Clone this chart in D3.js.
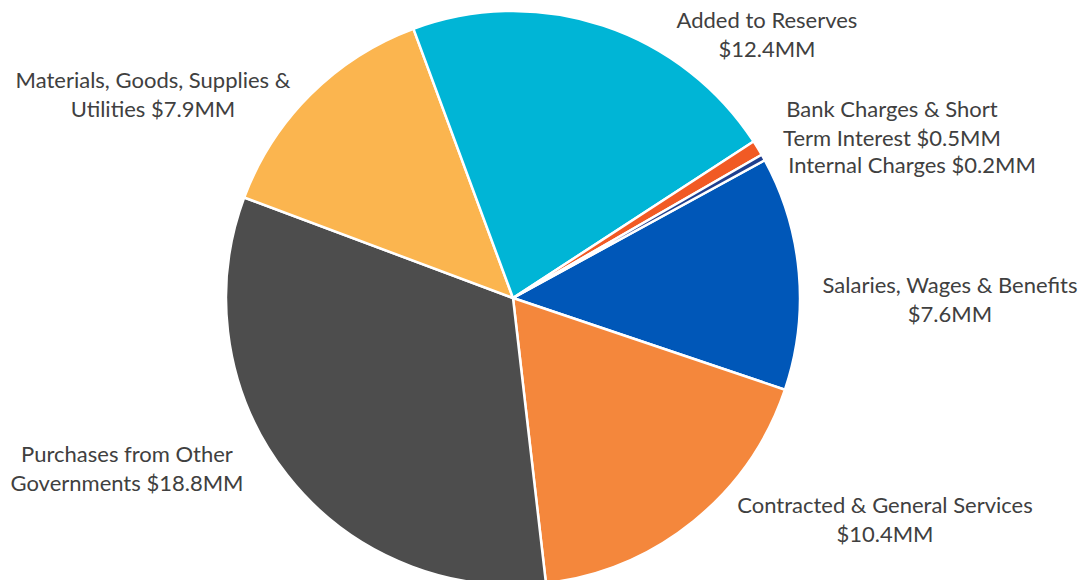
<!DOCTYPE html>
<html>
<head>
<meta charset="utf-8">
<script src="https://cdn.jsdelivr.net/npm/d3@7"></script>
<style>
  html, body { margin: 0; padding: 0; background: #ffffff; }
  svg { display: block; }
  text { font-family: "Lato", "Open Sans", sans-serif; fill: #404040; }
</style>
</head>
<body>
<svg id="chart" width="1086" height="580"></svg>
<script>
// Expense categories, clockwise from the Salaries slice
const categories = [
  "Salaries, Wages & Benefits",
  "Contracted & General Services",
  "Purchases from Other Governments",
  "Materials, Goods, Supplies & Utilities",
  "Added to Reserves",
  "Bank Charges & Short Term Interest",
  "Internal Charges"
];
// Amounts in $MM
const amounts = [7.6, 10.4, 18.8, 7.9, 12.4, 0.5, 0.2];
const colors = ["#0057b8", "#f4873c", "#4d4d4d", "#fbb54f", "#00b5d6", "#f15a24", "#1f3f8f"];
// Label text lines for each slice
const labelLines = [
  ["Salaries, Wages & Benefits", "$7.6MM"],
  ["Contracted & General Services", "$10.4MM"],
  ["Purchases from Other", "Governments $18.8MM"],
  ["Materials, Goods, Supplies &", "Utilities $7.9MM"],
  ["Added to Reserves", "$12.4MM"],
  ["Bank Charges & Short", "Term Interest $0.5MM"],
  ["Internal Charges $0.2MM"]
];
// Label anchor (centre x, first baseline y)
const labelPos = [
  [950, 293],
  [885, 513],
  [127, 462],
  [153, 88],
  [767, 28],
  [892, 117],
  [912, 173]
];

const svg = d3.select("#chart");
const cx = 513, cy = 298, radius = 287;
const startDeg = 61.3;

const pie = d3.pie()
  .sort(null)
  .value(d => d)
  .startAngle(startDeg * Math.PI / 180)
  .endAngle(startDeg * Math.PI / 180 + 2 * Math.PI);

const arc = d3.arc().innerRadius(0).outerRadius(radius);

const g = svg.append("g").attr("transform", `translate(${cx},${cy})`);

g.selectAll("path")
  .data(pie(amounts))
  .join("path")
  .attr("d", arc)
  .attr("fill", (d, i) => colors[i])
  .attr("stroke", "#ffffff")
  .attr("stroke-width", 2.5)
  .attr("stroke-linejoin", "round");

const lineH = 29;
const labels = svg.append("g").attr("font-size", 22);
labelLines.forEach((lines, i) => {
  const t = labels.append("text")
    .attr("text-anchor", "middle")
    .attr("x", labelPos[i][0])
    .attr("y", labelPos[i][1]);
  lines.forEach((ln, j) => {
    t.append("tspan")
      .attr("x", labelPos[i][0])
      .attr("dy", j === 0 ? 0 : lineH)
      .text(ln);
  });
});
</script>
</body>
</html>
